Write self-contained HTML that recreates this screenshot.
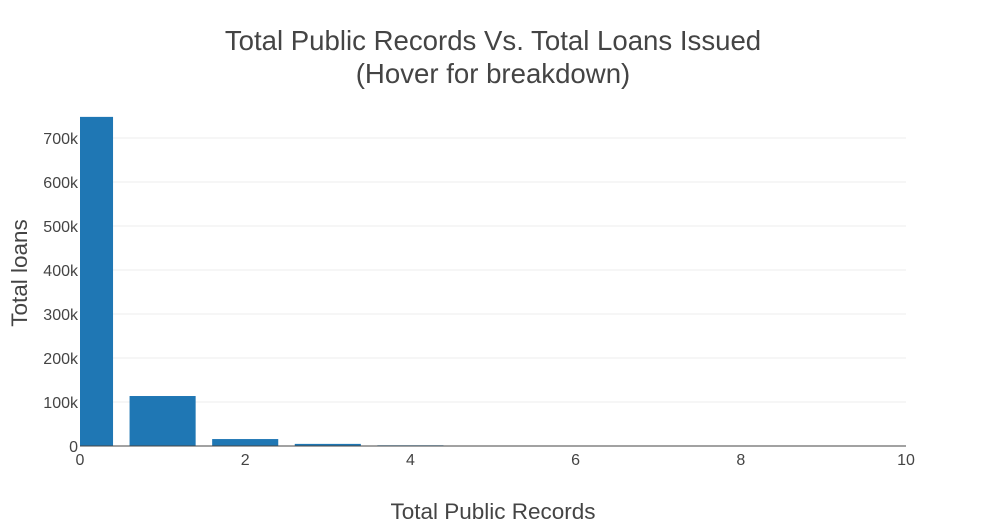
<!DOCTYPE html>
<html><head><meta charset="utf-8"><style>
body{margin:0;background:#fff;font-family:"Liberation Sans",sans-serif}
svg text{font-family:"Liberation Sans",sans-serif}
</style></head><body>
<svg id="chart" width="986" height="526" xmlns="http://www.w3.org/2000/svg">
<rect width="986" height="526" fill="#fff"/>
<text x="493" y="50" text-anchor="middle" font-size="27.6" fill="#444">Total Public Records Vs. Total Loans Issued</text>
<text x="493" y="83" text-anchor="middle" font-size="27.6" fill="#444">(Hover for breakdown)</text>
<g id="grid"></g><g id="bars"></g><g id="axes"></g>
<text x="493" y="519" text-anchor="middle" font-size="22.5" fill="#444">Total Public Records</text>
<text transform="translate(27,273) rotate(-90)" text-anchor="middle" font-size="22.5" fill="#444">Total loans</text>
</svg>
<script>
const categories=[0,1,2,3,4,5,6,7,8,9,10];
const loans=[748000,113600,15800,4800,1600,800,500,200,120,80,60];
const yTicks=[0,100000,200000,300000,400000,500000,600000,700000];
const yTickLabels=["0","100k","200k","300k","400k","500k","600k","700k"];
const xTicks=[0,2,4,6,8,10];
const NS="http://www.w3.org/2000/svg";
const L=80,R=906,B=446,pxPer100k=44;
const x=v=>L+(v-0)/10*(R-L);
const y=v=>B-v/100000*pxPer100k;
function mk(t,a,p){const e=document.createElementNS(NS,t);for(const k in a)e.setAttribute(k,a[k]);p.appendChild(e);return e;}
const grid=document.getElementById('grid'),bars=document.getElementById('bars'),axes=document.getElementById('axes');
yTicks.forEach((t,i)=>{
 if(t>0){const g=mk('line',{x1:L,x2:R,y1:y(t),y2:y(t),stroke:'#eee','stroke-width':1},grid);
 
 }
 const tx=mk('text',{x:L-2,y:y(t)+6,'text-anchor':'end','font-size':16,fill:'#444'},axes);
 tx.textContent=yTickLabels[i];
 
 
});
xTicks.forEach(t=>{
 const tx=mk('text',{x:x(t),y:B+19,'text-anchor':'middle','font-size':16,fill:'#444'},axes);
 tx.textContent=t;
 
 
});
categories.forEach((c,i)=>{
 const x0=Math.max(x(c-0.4),L),x1=Math.min(x(c+0.4),R);
 if(x1<=x0)return;
 const r=mk('rect',{x:x0,y:y(loans[i]),width:x1-x0,height:B-y(loans[i]),fill:'#1f77b4'},bars);
 
 
});
const ax=mk('line',{x1:L,x2:R,y1:B,y2:B,stroke:'#444','stroke-width':1},axes);


</script>
</body></html>
